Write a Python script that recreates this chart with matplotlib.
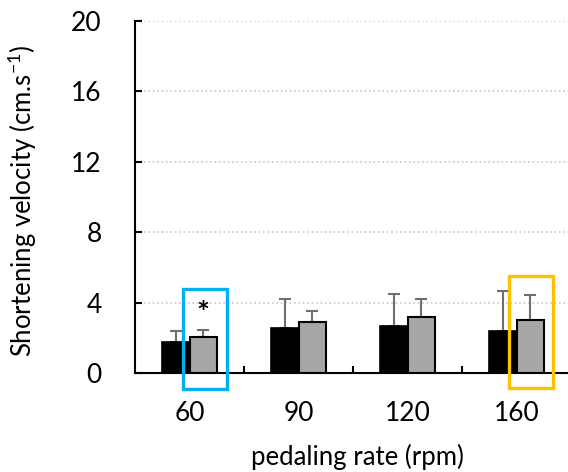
import numpy as np
import matplotlib.pyplot as plt
from matplotlib.patches import Rectangle

plt.rcParams['font.family'] = ['Lato', 'DejaVu Sans']
plt.rcParams['mathtext.fontset'] = 'custom'
plt.rcParams['mathtext.rm'] = 'Lato'

rates = ['60', '90', '120', '160']
black_mean = [1.76, 2.56, 2.67, 2.39]
black_err = [0.63, 1.64, 1.83, 2.27]
grey_mean = [2.05, 2.90, 3.18, 3.00]
grey_err = [0.39, 0.60, 1.02, 1.43]

fig = plt.figure(figsize=(5.68, 4.72), dpi=100)
ax = fig.add_axes([0.2377, 0.2097, 0.768, 0.7458])

x = np.arange(len(rates))
w = 0.25
ax.bar(x - w / 2, black_mean, w, color='black', edgecolor='black', lw=1.2, zorder=3)
ax.bar(x + w / 2, grey_mean, w, color='#a6a6a6', edgecolor='black', lw=1.5, zorder=3)
ax.errorbar(x - w / 2, black_mean, yerr=[np.zeros(4), black_err], fmt='none',
            ecolor='#6f6f6f', elinewidth=1.5, capsize=4.5, capthick=1.5, zorder=2)
ax.errorbar(x + w / 2, grey_mean, yerr=[np.zeros(4), grey_err], fmt='none',
            ecolor='#6f6f6f', elinewidth=1.5, capsize=4.5, capthick=1.5, zorder=2)

# significance marker
ax.text(x[0] + w / 2, grey_mean[0] + grey_err[0] + 0.1, '*', ha='center', va='bottom',
        fontsize=22, fontweight='bold')

# highlight boxes
ax.add_patch(Rectangle((x[0] - 0.06, -0.91), 0.405, 5.68, fill=False,
                       ec='#00b0f0', lw=2.4, clip_on=False, zorder=4))
ax.add_patch(Rectangle((x[3] - 0.07, -0.85), 0.405, 6.36, fill=False,
                       ec='#ffc000', lw=2.4, clip_on=False, zorder=4))

ax.set_xlim(-0.5, 3.5)
ax.set_ylim(0, 20)
ax.set_yticks(np.arange(0, 21, 4))
ax.set_xticks(x)
ax.set_xticklabels(rates)
ax.set_xticks([0.5, 1.5, 2.5], minor=True)
ax.tick_params(axis='x', which='major', length=0, labelsize=19, pad=20)
ax.tick_params(axis='x', which='minor', direction='in', length=5, width=1.5)
ax.tick_params(axis='y', direction='in', length=5, width=1.5, labelsize=19, pad=24)

ax.yaxis.grid(True, ls=':', color='#c8c8c8', lw=1.2, zorder=0)
ax.set_axisbelow(True)
for s in ['top', 'right']:
    ax.spines[s].set_visible(False)
for s in ['left', 'bottom']:
    ax.spines[s].set_linewidth(1.5)

ax.set_ylabel('Shortening velocity (cm.s$^{-1}$)', fontsize=18.5)
ax.set_xlabel('pedaling rate (rpm)', fontsize=18.5)
ax.yaxis.set_label_coords(-0.22, 0.49)
ax.xaxis.set_label_coords(0.511, -0.20)

fig.savefig('out.png', dpi=100)
